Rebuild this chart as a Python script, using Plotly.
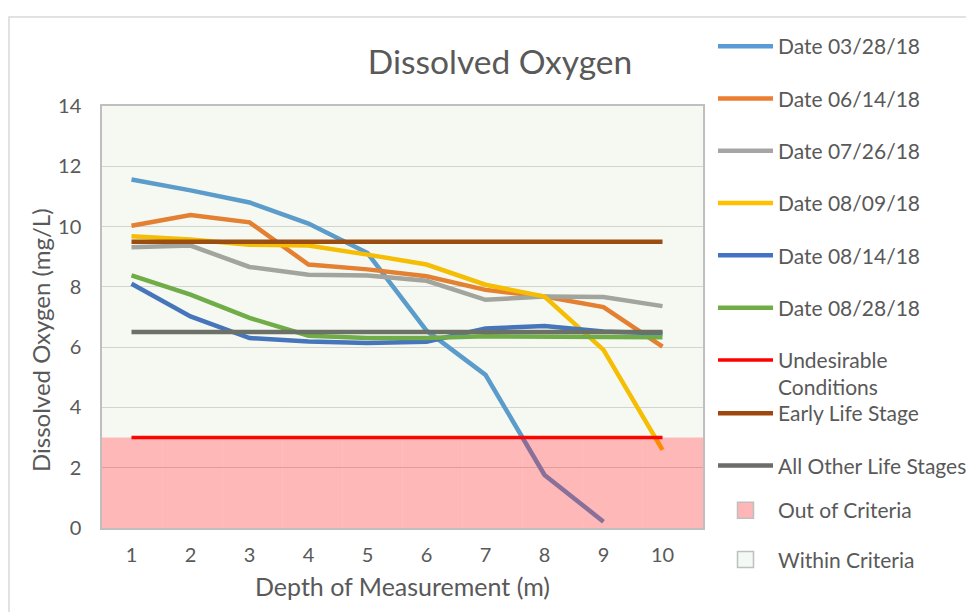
import plotly.graph_objects as go

depth = ['1', '2', '3', '4', '5', '6', '7', '8', '9', '10']
y_ticks = [0, 2, 4, 6, 8, 10, 12, 14]

do_0328 = [11.56, 11.2, 10.8, 10.1, 9.12, 6.55, 5.08, 1.76, 0.21, None]
do_0614 = [10.03, 10.38, 10.14, 8.74, 8.58, 8.35, 7.9, 7.68, 7.33, 6.02]
do_0726 = [9.31, 9.37, 8.66, 8.4, 8.38, 8.2, 7.57, 7.68, 7.66, 7.36]
do_0809 = [9.68, 9.57, 9.4, 9.37, 9.07, 8.74, 8.07, 7.68, 5.91, 2.59]
do_0814 = [8.1, 7.02, 6.3, 6.19, 6.14, 6.18, 6.62, 6.7, 6.52, 6.45]
do_0828 = [8.38, 7.74, 6.97, 6.38, 6.3, 6.3, 6.36, 6.36, 6.35, 6.33]
undesirable = [3, 3, 3, 3, 3, 3, 3, 3, 3, 3]
early_life = [9.5, 9.5, 9.5, 9.5, 9.5, 9.5, 9.5, 9.5, 9.5, 9.5]
other_life = [6.5, 6.5, 6.5, 6.5, 6.5, 6.5, 6.5, 6.5, 6.5, 6.5]
out_criteria = [3, 3, 3, 3, 3, 3, 3, 3, 3, 3]
within_criteria = [11, 11, 11, 11, 11, 11, 11, 11, 11, 11]

FONT = "Lato"
TXT = "#595959"

# figure is placed at (8, 8) by the page's body margin
W, H = 966, 604
L, R, T, B = 94, 271, 98, 84
PW, PH = W - L - R, H - T - B
CAT_W = 59.0  # px per depth category in the line chart


def px_x(sx):
    return (sx - 8 - L) / PW


def px_y(sy):
    return 1 - (sy - 8 - T) / PH


series = [
    ("Date 03/28/18", do_0328, "#5B9BD5"),
    ("Date 06/14/18", do_0614, "#ED7D31"),
    ("Date 07/26/18", do_0726, "#A5A5A5"),
    ("Date 08/09/18", do_0809, "#FFC000"),
    ("Date 08/14/18", do_0814, "#4472C4"),
    ("Date 08/28/18", do_0828, "#70AD47"),
]

fig = go.Figure()

# Within criteria band (below the lines)
fig.add_trace(go.Bar(
    x=depth, y=within_criteria, base=out_criteria, width=1,
    xaxis="x3", name="Within Criteria",
    marker=dict(color="rgba(112,173,71,0.07)", line=dict(width=0)),
    showlegend=False, hoverinfo="skip"))

rank = 1
for name, vals, col in series:
    fig.add_trace(go.Scatter(
        x=depth, y=vals, mode="lines", name=name,
        line=dict(color=col, width=4.5), legend="legend", legendrank=rank,
        legendgroup="g%d" % rank))
    rank += 1

fig.add_trace(go.Scatter(x=depth, y=undesirable, mode="lines",
                         name="Undesirable<br>Conditions",
                         line=dict(color="#FF0000", width=3.5),
                         legend="legend", legendrank=7, legendgroup="g7"))
fig.add_trace(go.Scatter(x=depth, y=early_life, mode="lines",
                         name="Early Life Stage",
                         line=dict(color="#9E480E", width=4.5),
                         legend="legend2", legendrank=1, legendgroup="h1"))
fig.add_trace(go.Scatter(x=depth, y=other_life, mode="lines",
                         name="All Other Life Stages",
                         line=dict(color="#6B6D6A", width=4.5),
                         legend="legend2", legendrank=2, legendgroup="h2"))

# Out of criteria band (overlaid, semi-transparent, above lines)
fig.add_trace(go.Bar(
    x=depth, y=out_criteria, width=1, xaxis="x2", yaxis="y2",
    name="Out of Criteria",
    marker=dict(color="rgba(255,0,0,0.28)", line=dict(width=0)),
    showlegend=False, hoverinfo="skip"))

# legend keys for the two criteria bands
fig.add_trace(go.Scatter(
    x=[None], y=[None], mode="markers", name="Out of Criteria",
    marker=dict(symbol="square", size=16, color="#FFB6B6",
                line=dict(color="#BFBFBF", width=1.5)),
    legend="legend3", legendrank=1, legendgroup="k1"))
fig.add_trace(go.Scatter(
    x=[None], y=[None], mode="markers", name="Within Criteria",
    marker=dict(symbol="square", size=16, color="#F3F9F3",
                line=dict(color="#BFBFBF", width=1.5)),
    legend="legend3", legendrank=2, legendgroup="k2"))

leg_common = dict(xanchor="left", yanchor="top", bgcolor="rgba(0,0,0,0)",
                  font=dict(size=21, color=TXT, family=FONT),
                  itemwidth=55, valign="top", maxheight=580)

band_axis = dict(type="category", categoryorder="array", categoryarray=depth,
                 range=[-0.5, 9.5], overlaying="x", visible=False)

fig.update_layout(
    width=W, height=H,
    margin=dict(l=L, r=R, t=T, b=B, autoexpand=False),
    paper_bgcolor="white", plot_bgcolor="white",
    font=dict(family=FONT, color=TXT, size=20),
    title=dict(text="Dissolved Oxygen", x=px_x(500), xanchor="center",
               xref="paper", y=1 - (62 - 8) / H, yanchor="middle",
               font=dict(size=33.5, color=TXT, family=FONT)),
    showlegend=True,
    barmode="overlay",
    legend=dict(x=px_x(713), y=px_y(26), tracegroupgap=22, **leg_common),
    legend2=dict(x=px_x(713), y=px_y(393), tracegroupgap=22, **leg_common),
    legend3=dict(x=px_x(713), y=px_y(490), tracegroupgap=19, **leg_common),
    xaxis=dict(type="category", categoryorder="array", categoryarray=depth,
               range=[-0.5, -0.5 + PW / CAT_W], showgrid=False, ticks="",
               showline=True, linecolor="#BFBFBF", linewidth=1.5, mirror=True,
               tickfont=dict(size=20, color=TXT), ticklabelstandoff=8,
               title=dict(text="Depth of Measurement (m)",
                          font=dict(size=25, color=TXT), standoff=14)),
    yaxis=dict(range=[0, 14], tickvals=y_ticks, showgrid=True,
               gridcolor="#D9D9D9", gridwidth=1.3, zeroline=False,
               showline=True, linecolor="#BFBFBF", linewidth=1.5, mirror=True,
               ticks="", tickfont=dict(size=20, color=TXT),
               ticklabelstandoff=15),
    xaxis2=band_axis,
    xaxis3=band_axis,
    yaxis2=dict(range=[0, 14], overlaying="y", visible=False),
    annotations=[dict(text="Dissolved Oxygen (mg/L)", textangle=-90,
                      xref="paper", yref="paper", x=px_x(40), y=px_y(340),
                      xanchor="center", yanchor="middle", showarrow=False,
                      font=dict(size=24, color=TXT, family=FONT))],
    shapes=[dict(type="rect", xref="paper", yref="paper",
                 x0=px_x(9), x1=px_x(1000),
                 y0=px_y(640), y1=px_y(17),
                 line=dict(color="#D9D9D9", width=1.5),
                 fillcolor="rgba(0,0,0,0)", layer="below")],
)

fig.write_html("out.html")
